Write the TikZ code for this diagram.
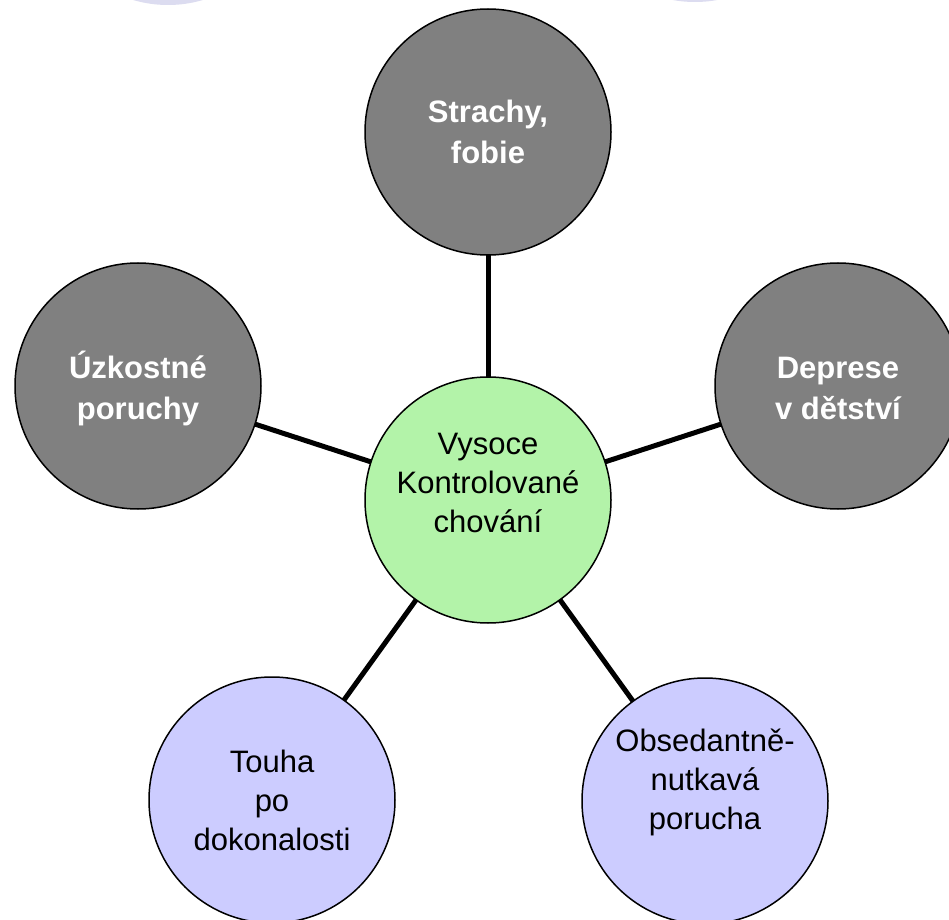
\documentclass[tikz,border=0pt]{standalone}
\usepackage{fontspec}
\setmainfont{Liberation Sans}
\definecolor{grayfill}{HTML}{808080}
\definecolor{greenfill}{HTML}{B3F3A9}
\definecolor{lavfill}{HTML}{CCCCFF}
\definecolor{paleblob}{HTML}{DCDCF0}
\begin{document}
\begin{tikzpicture}[x=0.5pt,y=-0.5pt,
  circ/.style={circle,draw=black,line width=0.75pt,minimum size=123pt,inner sep=0pt,outer sep=0pt},
  darkc/.style={circ,fill=grayfill},
  greenc/.style={circ,fill=greenfill},
  lavc/.style={circ,fill=lavfill},
  blob/.style={circle,fill=paleblob,minimum size=123pt,inner sep=0pt,draw=none},
  txt/.style={align=center,inner sep=0pt,font=\fontsize{15.5pt}{19.5pt}\selectfont},
  btxt/.style={txt,text=white,font=\fontsize{15.5pt}{20.5pt}\selectfont\bfseries},
  conn/.style={line width=2.5pt,black}]
\clip (0,0) rectangle (949,920);
\fill[white] (0,0) rectangle (949,920);
% cut-off pale circles at the top edge
\node[blob] (B1) at (168,-118) {};
\node[blob] (B2) at (695,-121) {};
% circles
\node[greenc] (G) at (488,500) {};
\node[darkc] (S) at (488,132) {};
\node[darkc] (U) at (138,386) {};
\node[darkc] (D) at (838,386) {};
\node[lavc] (T) at (272,800) {};
\node[lavc] (O) at (705,801) {};
% connectors
\draw[conn] (G) -- (S);
\draw[conn] (G) -- (U);
\draw[conn] (G) -- (D);
\draw[conn] (G) -- (T);
\draw[conn] (G) -- (O);
% texts
\node[txt] (Gt) at (488,483) {Vysoce\\Kontrolované\\chování};
\node[btxt] (St) at (488,132) {Strachy,\\fobie};
\node[btxt] (Ut) at (138,388) {Úzkostné\\poruchy};
\node[btxt] (Dt) at (838,388) {Deprese\\v dětství};
\node[txt] (Tt) at (272,800) {Touha\\po\\dokonalosti};
\node[txt] (Ot) at (705,782) {Obsedantně-\\nutkavá\\porucha};
\end{tikzpicture}
\end{document}
